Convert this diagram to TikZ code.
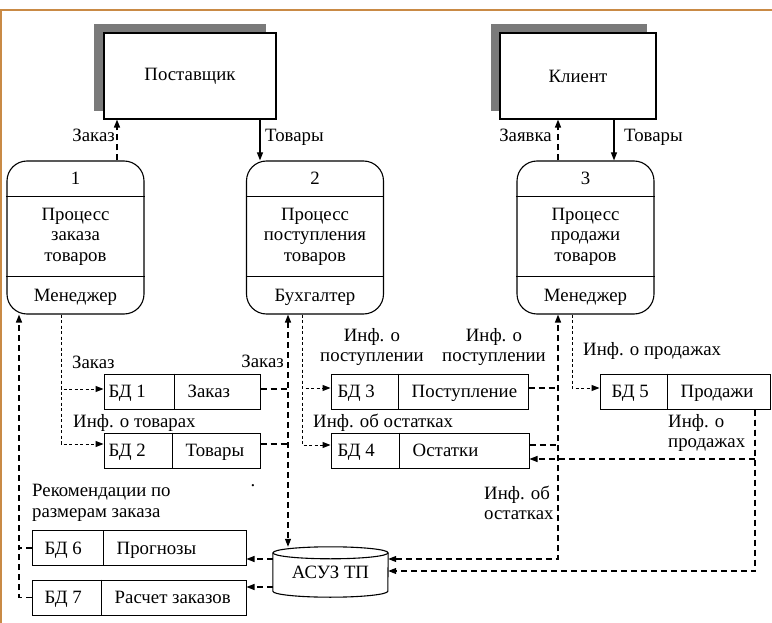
\documentclass[tikz,border=0pt]{standalone}
\usepackage{fontspec}
\setmainfont{Liberation Serif}
\usetikzlibrary{arrows.meta,backgrounds}
\definecolor{framecol}{HTML}{C98A45}
\definecolor{shadowcol}{HTML}{7A7A7A}
\tikzset{
  txt/.style={font=\fontsize{18.8}{20.5}\selectfont, inner sep=0pt, align=center},
  txtl/.style={txt, align=left},
  entbox/.style={draw, line width=1.1pt, fill=white, inner sep=0pt, minimum height=86pt, txt},
  procbox/.style={draw, line width=1.1pt, rounded corners=20pt, minimum width=137pt, minimum height=153pt, inner sep=0pt},
  bdbox/.style={draw, line width=1pt, minimum height=35pt, inner sep=0pt},
  arrtip/.style={-{Triangle[length=8pt,width=6pt]}},
  arrboth/.style={{Triangle[length=8pt,width=6pt]}-{Triangle[length=8pt,width=6pt]}},
  flow/.style={line width=1.1pt, arrtip},
  dflow/.style={line width=1.2pt, dash pattern=on 6pt off 4pt},
  dfine/.style={line width=1pt, dash pattern=on 3pt off 2.5pt},
}
\newcommand\mkproc[6]{%
  \node[procbox] (#1) at (#2,237.5) {};
  \draw[line width=1.1pt] ([yshift=-36pt]#1.north west) -- ([yshift=-36pt]#1.north east);
  \draw[line width=1.1pt] ([yshift=-116pt]#1.north west) -- ([yshift=-116pt]#1.north east);
  \node[txt, anchor=base] (#1num) at ([yshift=-24pt]#1.north) {#3};
  \node[txt] (#1txt) at ([yshift=-76pt]#1.north) {#4};
  \node[txt, anchor=base] (#1role) at ([yshift=-141pt]#1.north) {#5};
}
\newcommand\mkbd[8]{%
  \node[bdbox, minimum width=#4pt] (#1) at (#2,#3) {};
  \draw[line width=1pt] ([xshift=#5pt]#1.north west) -- ([xshift=#5pt]#1.south west);
  \node[txt, anchor=base west] (#1a) at ([xshift=#6pt,yshift=-6pt]#1.west) {#7};
  \node[txt, anchor=base west] (#1b) at ([xshift=#5pt+13pt,yshift=-6pt]#1.west) {#8};
}
\begin{document}
\begin{tikzpicture}[x=1pt,y=-1pt]
\useasboundingbox (0,0) rectangle (772,623);
% frame
\draw[framecol, line width=2pt] (1,623) -- (1,10.5) -- (772,10.5);

% external entities
\node[entbox, minimum width=172pt] (sup) at (190,76) {Поставщик};
\node[entbox, minimum width=156pt] (cli) at (578,76) {Клиент};
\begin{scope}[on background layer]
  \fill[shadowcol] ([shift={(-9pt,8pt)}]sup.north west) rectangle ([shift={(-11pt,9pt)}]sup.south east);
  \fill[shadowcol] ([shift={(-8pt,8pt)}]cli.north west) rectangle ([shift={(-10pt,9pt)}]cli.south east);
\end{scope}

% processes
\mkproc{p1}{75.5}{1}{Процесс\\заказа\\товаров}{Менеджер}{}
\mkproc{p2}{315}{2}{Процесс\\поступления\\товаров}{Бухгалтер}{}
\mkproc{p3}{585.5}{3}{Процесс\\продажи\\товаров}{Менеджер}{}

% data stores
\mkbd{bd1}{182}{391.5}{156}{71}{5}{БД 1}{Заказ}
\mkbd{bd2}{182}{450.5}{156}{69}{5}{БД 2}{Товары}
\mkbd{bd3}{429.5}{391.5}{197}{68}{7}{БД 3}{Поступление}
\mkbd{bd4}{430}{450.5}{198}{69}{7}{БД 4}{Остатки}
\mkbd{bd5}{685}{391.5}{170}{68}{12}{БД 5}{Продажи}
\mkbd{bd6}{139}{548}{214}{72}{13}{БД 6}{Прогнозы}
\mkbd{bd7}{139}{597.5}{214}{70}{13}{БД 7}{Расчет заказов}

% database cylinder
\node[txt, minimum width=115pt, minimum height=50pt] (db) at (330.5,572) {АСУЗ ТП};
\draw[line width=1.1pt] ([yshift=-6pt]db.north) ellipse [x radius=57.5pt, y radius=6pt];
\draw[line width=1.1pt] ([yshift=-6pt]db.north west) -- ([yshift=6pt]db.south west)
   arc[start angle=180, end angle=360, x radius=57.5pt, y radius=6pt] -- ([yshift=-6pt]db.north east);

% helper coordinates
\coordinate (p1dn) at ([xshift=-14.5pt]p1.south);
\coordinate (p1up) at ([xshift=-56.5pt]p1.south);
\coordinate (p2up) at ([xshift=-27pt]p2.south);
\coordinate (p2dn) at ([xshift=-13pt]p2.south);
\coordinate (p3up) at ([xshift=-27.5pt]p3.south);
\coordinate (p3dn) at ([xshift=-13.5pt]p3.south);
\coordinate (bd5dn) at ([xshift=70pt]bd5.south);

% top flows
\draw[dflow, arrtip] ([xshift=41.5pt]p1.north) -- ([xshift=41.5pt]p1.north |- sup.south);
\draw[flow] ([xshift=70pt]sup.south) -- ([xshift=70pt]sup.south |- p2.north);
\draw[dflow, arrtip] ([xshift=-27.5pt]p3.north) -- ([xshift=-27.5pt]p3.north |- cli.south);
\draw[flow] ([xshift=36pt]cli.south) -- ([xshift=36pt]cli.south |- p3.north);

\node[txt, anchor=base east] (lz1) at (115,142) {Заказ};
\node[txt, anchor=base west] (lt1) at (265,142) {Товары};
\node[txt, anchor=base east] (lzv) at (552,142) {Заявка};
\node[txt, anchor=base west] (lt2) at (624,142) {Товары};

% process 1 -> BD1, BD2
\draw[dfine, arrtip] (p1dn) |- ([yshift=2.5pt]bd1.west);
\draw[dfine, arrtip] (p1dn) |- ([yshift=6.5pt]bd2.west);
% BD6, BD7 -> process 1
\draw[dflow, arrtip] (bd6.west) -| (p1up);
\draw[dflow] (bd7.west) -| (p1up |- bd6.west);

% BD1, BD2 <-> process 2 / database
\draw[dflow, arrboth] (p2up) -- (p2up |- db.north);
\draw[dflow] ([yshift=2.5pt]bd1.east) -- ([yshift=2.5pt]bd1.east -| p2up);
\draw[dflow] ([yshift=6.5pt]bd2.east) -- ([yshift=6.5pt]bd2.east -| p2up);

% process 2 -> BD3, BD4
\draw[dfine, arrtip] (p2dn) |- ([yshift=3.5pt]bd3.west);
\draw[dfine, arrtip] (p2dn) |- ([yshift=5.5pt]bd4.west);

% BD3, BD4 -> process 3 and database
\draw[dflow, arrboth] ([yshift=13pt]db.east) -| (p3up);
\draw[dflow] ([yshift=3.5pt]bd3.east) -- ([yshift=3.5pt]bd3.east -| p3up);
\draw[dflow] ([yshift=5.5pt]bd4.east) -- ([yshift=5.5pt]bd4.east -| p3up);

% process 3 -> BD5
\draw[dfine, arrtip] (p3dn) |- ([yshift=3.5pt]bd5.west);

% BD5 -> BD4 and database
\draw[dflow, arrtip] (bd5dn) |- ([yshift=-8.5pt]bd4.east);
\draw[dflow, arrtip] (bd5dn) |- ([yshift=1pt]db.east);

% database -> BD6, BD7
\draw[dflow, arrtip] ([yshift=13pt]db.west) -- ([yshift=-11pt]bd6.east);
\draw[dflow, arrtip] ([yshift=-15pt]db.west) -- ([yshift=10.5pt]bd7.east);

% labels
\node[txt, anchor=base west] (lz2) at (72,368) {Заказ};
\node[txt, anchor=base west] (lit) at (73,427) {Инф. о товарах};
\node[txt, anchor=base east] (lz3) at (284,367) {Заказ};
\node[txt] (lip1) at (372,347) {Инф. о\\поступлении};
\node[txt, anchor=base west] (lio) at (313,427) {Инф. об остатках};
\node[txt] (lip2) at (494,347) {Инф. о\\поступлении};
\node[txt, anchor=base west] (lpr1) at (583,355) {Инф. о продажах};
\node[txtl, anchor=west] (lpr2) at (668,433) {Инф. о\\продажах};
\node[txtl, anchor=west] (lio2) at (484,503) {Инф. об\\остатках};
\node[txtl, anchor=west] (lrec) at (32,503) {Рекомендации по\\размерам заказа};
\node[txt] (ldot) at (253,486) {.};
\end{tikzpicture}
\end{document}
